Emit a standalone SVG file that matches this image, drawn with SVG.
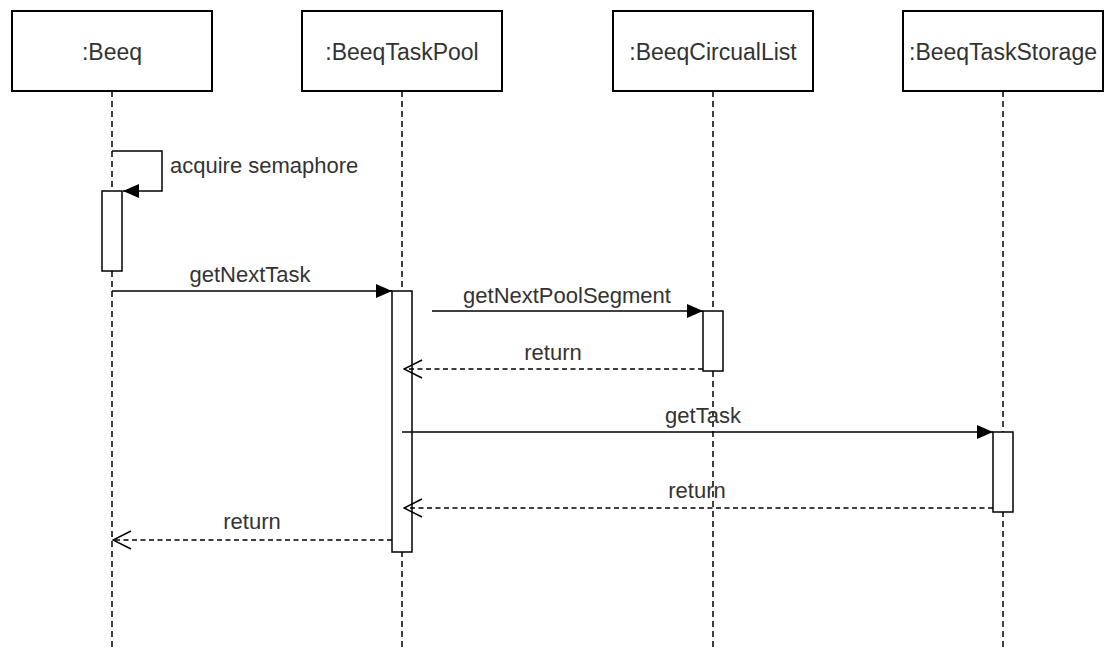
<svg xmlns="http://www.w3.org/2000/svg" width="1108" height="650" viewBox="0 0 1108 650">
<defs>
<style>
.box{fill:#fff;stroke:#000;stroke-width:2}
.life{stroke:#000;stroke-width:1.5;stroke-dasharray:6 4;fill:none}
.act{fill:#fff;stroke:#000;stroke-width:1.5}
.msg{stroke:#000;stroke-width:1.5;fill:none}
.ret{stroke:#000;stroke-width:1.5;stroke-dasharray:5 3.5;fill:none}
.lbl{font-family:"Liberation Sans",Arial,sans-serif;font-size:23px;fill:#333;text-anchor:middle}
.mtx{font-family:"Liberation Sans",Arial,sans-serif;font-size:22px;fill:#333}
</style>
<marker id="filled" viewBox="0 0 16 14" refX="16" refY="7" markerWidth="16" markerHeight="14" markerUnits="userSpaceOnUse" orient="auto">
<path d="M0,0 L16,7 L0,14 Z" fill="#000"/>
</marker>
<marker id="open" viewBox="-1 -1 20 20" refX="18" refY="9" markerWidth="20" markerHeight="20" markerUnits="userSpaceOnUse" orient="auto">
<path d="M0,0 L18,9 L0,18" fill="none" stroke="#000" stroke-width="1.5"/>
</marker>
</defs>
<rect width="1108" height="650" fill="#fff"/>

<g id="lifelines">
<line class="life" x1="112" y1="91" x2="112" y2="650"/>
<line class="life" x1="402" y1="91" x2="402" y2="650"/>
<line class="life" x1="713" y1="91" x2="713" y2="650"/>
<line class="life" x1="1003" y1="91" x2="1003" y2="650"/>
</g>

<g id="beeq">
<rect class="box" x="12" y="11" width="200" height="80"/>
<text class="lbl" x="112" y="60">:Beeq</text>
<rect class="act" x="102" y="191" width="20" height="80"/>
</g>
<g id="taskpool">
<rect class="box" x="302" y="11" width="200" height="80"/>
<text class="lbl" x="402" y="60">:BeeqTaskPool</text>
<rect class="act" x="392" y="291" width="20" height="261"/>
</g>
<g id="circuallist">
<rect class="box" x="613" y="11" width="200" height="80"/>
<text class="lbl" x="713" y="60">:BeeqCircualList</text>
<rect class="act" x="703" y="311" width="20" height="60"/>
</g>
<g id="taskstorage">
<rect class="box" x="903" y="11" width="200" height="80"/>
<text class="lbl" x="1003" y="60">:BeeqTaskStorage</text>
<rect class="act" x="993" y="432" width="20" height="80"/>
</g>

<g id="connectors">
<polyline class="msg" points="112,151 162,151 162,191 123,191" marker-end="url(#filled)"/>
<text class="mtx" x="170" y="173">acquire semaphore</text>

<line class="msg" x1="112" y1="291" x2="392" y2="291" marker-end="url(#filled)"/>
<text class="mtx" x="250" y="282" text-anchor="middle">getNextTask</text>

<line class="msg" x1="432" y1="311" x2="703" y2="311" marker-end="url(#filled)"/>
<text class="mtx" x="567" y="303" text-anchor="middle">getNextPoolSegment</text>

<line class="ret" x1="703" y1="369" x2="404" y2="369" marker-end="url(#open)"/>
<text class="mtx" x="553" y="360" text-anchor="middle">return</text>

<line class="msg" x1="402" y1="432" x2="993" y2="432" marker-end="url(#filled)"/>
<text class="mtx" x="703" y="423" text-anchor="middle">getTask</text>

<line class="ret" x1="993" y1="508" x2="404" y2="508" marker-end="url(#open)"/>
<text class="mtx" x="697" y="498" text-anchor="middle">return</text>

<line class="ret" x1="392" y1="540" x2="113" y2="540" marker-end="url(#open)"/>
<text class="mtx" x="252" y="529" text-anchor="middle">return</text>
</g>
</svg>
